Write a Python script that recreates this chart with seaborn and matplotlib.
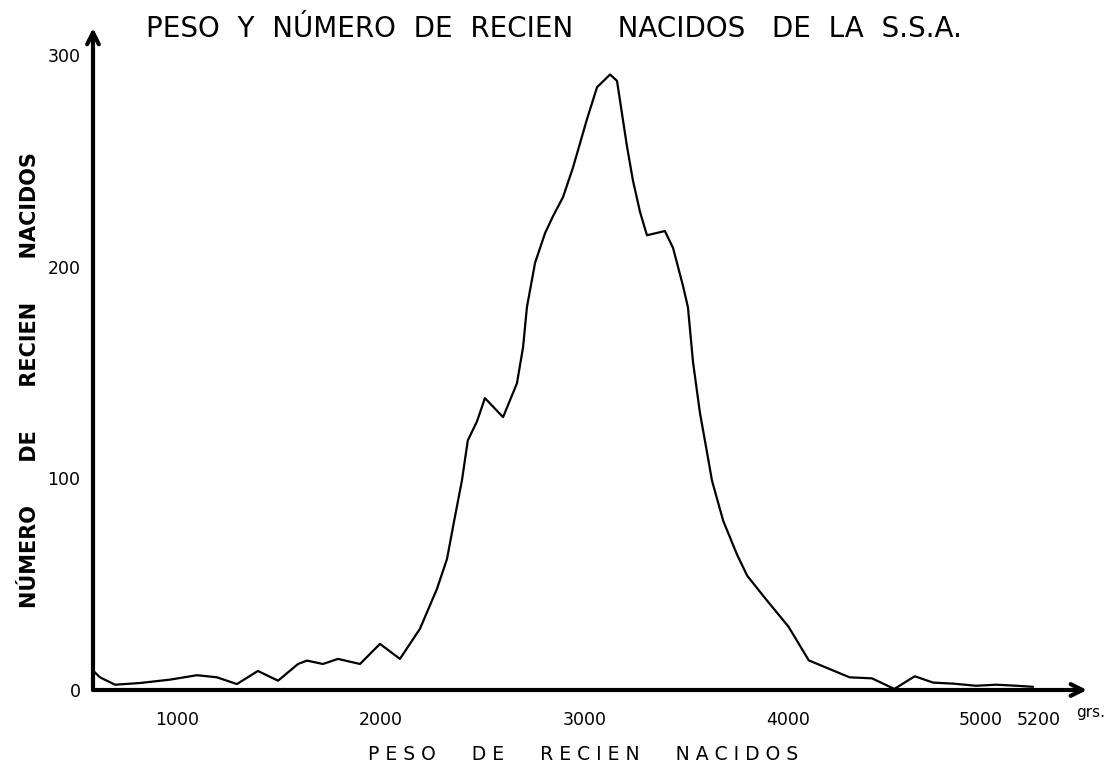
import matplotlib
matplotlib.use("Agg")
import matplotlib.pyplot as plt
import matplotlib.transforms as mtransforms
import seaborn as sns

# pesos (grs) y numero de recien nacidos
peso = [590, 622, 696, 818, 966, 1098, 1196, 1294, 1397, 1496, 1594, 1638,
        1716, 1790, 1898, 1996, 2094, 2192, 2276, 2325, 2360, 2398, 2427,
        2472, 2511, 2600, 2668, 2698, 2717, 2757, 2806, 2845, 2894, 2943,
        3012, 3061, 3125, 3159, 3208, 3237, 3272, 3306, 3394, 3434, 3483,
        3507, 3532, 3566, 3605, 3625, 3680, 3748, 3798, 3889, 4000, 4100,
        4200, 4300, 4410, 4520, 4620, 4710, 4810, 4920, 5020, 5120, 5200]
numero = [9, 6, 2.5, 3.3, 4.9, 7, 6, 2.8, 9, 4.4, 12.3, 13.9,
          12.3, 14.7, 12.3, 21.8, 14.7, 28.9, 47.9, 62, 80, 99, 118,
          127, 138, 129, 145, 162, 181, 202, 216, 224, 233, 247,
          270, 285, 291, 288, 257, 241, 226, 215, 217, 209, 191,
          181, 155, 131, 110, 99, 80, 64, 54, 43, 30, 14,
          10, 6, 5.5, 0.5, 6.5, 3.5, 3, 2, 2.5, 2, 1.5]

xticks = [1000, 2000, 3000, 4000, 5000, 5200]
xticks_menores = [1500, 2500, 3500, 4500]
yticks = [0, 100, 200, 300]

sns.set_theme(style="white")
plt.rcParams["font.family"] = ["DejaVu Sans"]

fig = plt.figure(figsize=(11.08, 7.67), dpi=100)
ax = fig.add_axes([93 / 1108, 1 - 690 / 767, (1087 - 93) / 1108, (690 - 28) / 767])

sns.lineplot(x=peso, y=numero, color="black", linewidth=1.6, ax=ax)

ax.set_xlim(588, 5465)
ax.set_ylim(0, 313)

for s in ax.spines.values():
    s.set_visible(False)

# ejes con flecha
flecha = dict(arrowstyle="->,head_length=0.7,head_width=0.35", lw=3, color="black",
              shrinkA=0, shrinkB=0)
ax.annotate("", xy=(1, 0), xytext=(0, 0), xycoords="axes fraction", arrowprops=flecha)
ax.annotate("", xy=(0, 1), xytext=(0, 0), xycoords="axes fraction", arrowprops=flecha)

ax.set_xticks(xticks)
ax.set_xticklabels([str(t) for t in xticks], fontsize=12.5)
ax.set_xticks(xticks_menores, minor=True)
ax.set_yticks(yticks)
ax.set_yticklabels([str(t) for t in yticks], fontsize=12.5)
ax.tick_params(axis="both", which="both", direction="out", length=6, width=2.5,
               color="black", labelcolor="black")
ax.tick_params(axis="x", which="major", pad=9)
ax.tick_params(axis="y", which="major", pad=3)
ax.grid(False)

# separar un poco las etiquetas 5000 y 5200
for lab in ax.get_xticklabels():
    if lab.get_text() == "5000":
        dx = -8 / 72
    elif lab.get_text() == "5200":
        dx = 4 / 72
    else:
        continue
    lab.set_transform(lab.get_transform() +
                      mtransforms.ScaledTranslation(dx, 0, fig.dpi_scale_trans))

fig.text(146 / 1108, 1 - 37 / 767,
         "PESO  Y  NÚMERO  DE  RECIEN     NACIDOS   DE  LA  S.S.A.",
         fontsize=20, ha="left", va="baseline", color="black")
fig.text(30 / 1108, 1 - 380 / 767, "NÚMERO      DE      RECIEN      NACIDOS",
         fontsize=15, rotation=90, ha="center", va="center", color="black",
         fontweight="bold")
fig.text(583 / 1108, 1 - 755 / 767, "P E S O      D E      R E C I E N      N A C I D O S",
         fontsize=13.5, ha="center", va="center", color="black")
fig.text(1076 / 1108, 1 - 712 / 767, "grs.", fontsize=11, ha="left", va="center",
         color="black")

fig.savefig("out.png", dpi=100, facecolor="white")
